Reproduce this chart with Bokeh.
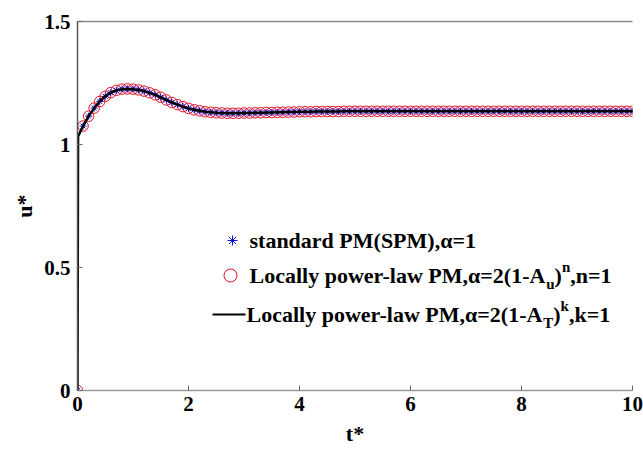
from bokeh.plotting import figure
from bokeh.models import Range1d, LinearAxis, Label, FixedTicker
from bokeh.embed import file_html
from bokeh.resources import INLINE

# ---------------- data ----------------
t_values = [0.0, 0.1, 0.2, 0.3, 0.4, 0.5, 0.6, 0.7, 0.8, 0.9,
            1.0, 1.1, 1.2, 1.3, 1.4, 1.5, 1.6, 1.7, 1.8, 1.9,
            2.0, 2.1, 2.2, 2.3, 2.4, 2.5, 2.6, 2.7, 2.8, 2.9,
            3.0, 3.1, 3.2, 3.3, 3.4, 3.5, 3.6, 3.7, 3.8, 3.9,
            4.0, 4.1, 4.2, 4.3, 4.4, 4.5, 4.6, 4.7, 4.8, 4.9,
            5.0, 5.1, 5.2, 5.3, 5.4, 5.5, 5.6, 5.7, 5.8, 5.9,
            6.0, 6.1, 6.2, 6.3, 6.4, 6.5, 6.6, 6.7, 6.8, 6.9,
            7.0, 7.1, 7.2, 7.3, 7.4, 7.5, 7.6, 7.7, 7.8, 7.9,
            8.0, 8.1, 8.2, 8.3, 8.4, 8.5, 8.6, 8.7, 8.8, 8.9,
            9.0, 9.1, 9.2, 9.3, 9.4, 9.5, 9.6, 9.7, 9.8, 9.9,
            10.0]

u_spm = [0.0, 1.075, 1.115, 1.148, 1.175, 1.196, 1.211, 1.220, 1.225, 1.226,
         1.225, 1.222, 1.217, 1.210, 1.202, 1.192, 1.181, 1.171, 1.162, 1.154,
         1.147, 1.141, 1.137, 1.133, 1.131, 1.129, 1.128, 1.127, 1.127, 1.127,
         1.128, 1.128, 1.129, 1.129, 1.130, 1.130, 1.131, 1.131, 1.132, 1.132,
         1.133, 1.133, 1.133, 1.134, 1.134, 1.134, 1.134, 1.134, 1.135, 1.135,
         1.135, 1.135, 1.135, 1.135, 1.135, 1.135, 1.135, 1.135, 1.135, 1.135,
         1.135, 1.135, 1.135, 1.135, 1.135, 1.135, 1.135, 1.135, 1.135, 1.135,
         1.135, 1.135, 1.135, 1.135, 1.135, 1.135, 1.135, 1.135, 1.135, 1.135,
         1.135, 1.135, 1.135, 1.135, 1.135, 1.135, 1.135, 1.135, 1.135, 1.135,
         1.135, 1.135, 1.135, 1.135, 1.135, 1.135, 1.135, 1.135, 1.135, 1.135,
         1.135]

# locally power-law (A_u) curve coincides with the SPM one in the picture
u_plu = list(u_spm)

# locally power-law (A_T) line: same readings plus the vertical jump at t=0
t_line = [0.0, 0.01] + t_values[1:]
u_line = [0.0, 1.033] + u_spm[1:]

x_ticks = [0, 2, 4, 6, 8, 10]
y_ticks = [0, 0.5, 1, 1.5]
y_tick_labels = {0: "0", 0.5: "0.5", 1: "1", 1.5: "1.5"}

# ---------------- figure ----------------
FONT = "Liberation Serif"
LEFT, FW, TOP, FH = 77, 555, 21, 369

p = figure(frame_width=FW, frame_height=FH,
           min_border_left=LEFT, min_border_right=643 - LEFT - FW,
           min_border_top=TOP, min_border_bottom=450 - TOP - FH,
           x_range=Range1d(0, 10), y_range=Range1d(0, 1.5),
           output_backend="svg", toolbar_location=None,
           x_axis_location=None, y_axis_location=None)
p.outline_line_color = None
p.xgrid.visible = False
p.ygrid.visible = False
p.background_fill_color = "white"
p.border_fill_color = "white"


def style_axis(ax, line_color):
    ax.axis_line_color = line_color
    ax.axis_line_width = 1.5
    ax.major_tick_in = 5
    ax.major_tick_out = 0
    ax.minor_tick_in = 0
    ax.minor_tick_out = 0
    ax.major_tick_line_color = "#666666"
    ax.major_label_text_font = FONT
    ax.major_label_text_font_style = "bold"
    ax.major_label_text_color = "black"
    ax.major_label_text_font_size = "21px"
    ax.axis_label_text_font = FONT
    ax.axis_label_text_font_style = "bold"
    ax.axis_label_text_font_size = "22px"
    ax.axis_label_text_color = "black"


xb = LinearAxis(ticker=FixedTicker(ticks=x_ticks), axis_label="t*")
style_axis(xb, "#9a9a9a")
xb.major_label_standoff = 6
xb.axis_label_standoff = 7
p.add_layout(xb, "below")

# top frame line only (no ticks, no labels)
xt = LinearAxis(ticker=FixedTicker(ticks=[]))
style_axis(xt, "#8a8a8a")
xt.major_label_standoff = 0
p.add_layout(xt, "above")

yl = LinearAxis(ticker=FixedTicker(ticks=y_ticks), axis_label="u*")
style_axis(yl, "#555555")
yl.major_label_overrides = y_tick_labels
yl.major_label_standoff = 7
yl.axis_label_standoff = 4
p.add_layout(yl, "left")

# ---------------- series ----------------
p.scatter(t_values, u_plu, marker="circle", size=10.5, fill_color=None,
          line_color="#e0102a", line_width=1)
p.scatter(t_values, u_spm, marker="asterisk", size=7,
          line_color="#1010d0", line_width=1)
p.line(t_line, u_line, line_color="black", line_width=2.5)

# ---------------- manual legend (pixel layout -> data coords) ----------------
def tx(px):
    return (px - LEFT) / (FW / 10.0)


def uy(py):
    return (TOP + FH - py) / (FH / 1.5)


W = {' ': 250, '(': 333, ')': 333, ',': 250, '-': 333, '1': 500, '2': 500,
     '=': 570, 'A': 722, 'L': 667, 'M': 944, 'P': 611, 'S': 556, 'T': 667,
     'a': 500, 'c': 444, 'd': 556, 'e': 444, 'k': 556, 'l': 278, 'n': 556,
     'o': 500, 'p': 556, 'r': 444, 's': 389, 't': 333, 'u': 556, 'w': 722,
     'y': 500, 'α': 560}


def width(s, size):
    return sum(W.get(c, 500) for c in s) * size / 1000.0


BIG, SMALL = 22, 15


def rich_label(px, py, pieces):
    off = 0.0
    for txt, kind in pieces:
        size = BIG if kind == "n" else SMALL
        dy = 0 if kind == "n" else (-8 if kind == "sub" else 9)
        p.add_layout(Label(x=tx(px), y=uy(py), x_offset=off, y_offset=dy,
                           text=txt, text_font=FONT, text_font_style="bold",
                           text_font_size=f"{size}px", text_color="black",
                           text_align="left", text_baseline="middle"))
        off += width(txt, size)


rows_py = [240, 275, 314]

p.scatter([tx(232)], [uy(rows_py[0])], marker="asterisk", size=10,
          line_color="#1010d0", line_width=1)
p.scatter([tx(230)], [uy(rows_py[1])], marker="circle", size=13,
          fill_color=None, line_color="#e0102a", line_width=1)
p.segment(x0=[tx(212)], y0=[uy(rows_py[2])], x1=[tx(245)], y1=[uy(rows_py[2])],
          line_color="black", line_width=2)

rich_label(249, rows_py[0], [("standard PM(SPM),α=1", "n")])
rich_label(249, rows_py[1], [("Locally power-law PM,α=2(1-A", "n"), ("u", "sub"),
                             (")", "n"), ("n", "sup"), (",n=1", "n")])
rich_label(246, rows_py[2], [("Locally power-law PM,α=2(1-A", "n"), ("T", "sub"),
                             (")", "n"), ("k", "sup"), (",k=1", "n")])

open("out.html", "w").write(file_html(p, INLINE))
